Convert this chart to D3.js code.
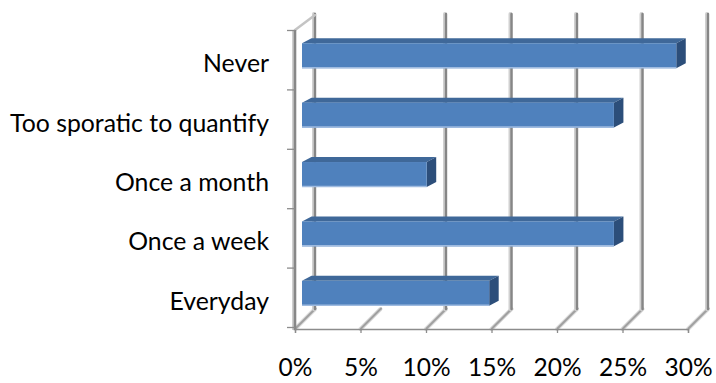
<!DOCTYPE html>
<html>
<head>
<meta charset="utf-8">
<script src="https://cdn.jsdelivr.net/npm/d3@7"></script>
<style>
  html, body { margin: 0; padding: 0; background: #ffffff; }
  svg { display: block; }
  text { font-family: Lato, "Open Sans", sans-serif; fill: #000; }
</style>
</head>
<body>
<svg id="chart" width="716" height="383"></svg>
<script>
// Survey answers (top to bottom) and their shares of respondents
const categories = ["Never", "Too sporatic to quantify", "Once a month", "Once a week", "Everyday"];
const shares = [0.2857, 0.2381, 0.0952, 0.2381, 0.1429];
const tickValues = [0, 0.05, 0.10, 0.15, 0.20, 0.25, 0.30];
const tickLabels = ["0%", "5%", "10%", "15%", "20%", "25%", "30%"];

const data = categories.map((c, i) => ({ category: c, value: shares[i] }));

const svg = d3.select("#chart");

// Front plane of the 3-D box
const plot = { left: 295, right: 688, top: 29, bottom: 326, floor: 329, wallTop: 30 };
// Depth offset of the back wall
const depthX = 20;
const backY = y => y - (15 + 5 * (y - plot.wallTop) / (plot.floor - plot.wallTop));

const x = d3.scaleLinear().domain([0, 0.30]).range([plot.left, plot.right]);
const y = d3.scaleBand().domain(categories).range([plot.top, plot.bottom]);

// Bar solid: offset of the front face into the box and the bar's own depth
const barFront = { dx: 7, dy: -3 };
const barDepth = { dx: 9.5, dy: -5 };
const barHeight = y.bandwidth() * 0.42;

const walls = svg.append("g");

// Floor lines running from each front tick back to the wall
const floorG = walls.append("g");
tickValues.forEach(t => {
  const x0 = x(t), y0 = plot.floor;
  const x1 = x(t) + depthX, y1 = backY(plot.floor);
  floorG.append("line")
    .attr("x1", x0).attr("y1", y0).attr("x2", x1).attr("y2", y1)
    .attr("stroke", "#dadada").attr("stroke-width", 4).attr("stroke-linecap", "round");
  floorG.append("line")
    .attr("x1", x0 + 0.5).attr("y1", y0 - 0.5).attr("x2", x1 + 0.5).attr("y2", y1 - 0.5)
    .attr("stroke", "#a0a0a0").attr("stroke-width", 2).attr("stroke-linecap", "round");
});

// Vertical gridlines on the back wall
const gridG = walls.append("g");
tickValues.forEach((t, i) => {
  if (i === 1) return; // the 5% wall line does not show
  const gx = x(t) + depthX;
  gridG.append("line")
    .attr("x1", gx - 1).attr("x2", gx - 1)
    .attr("y1", backY(plot.wallTop) - 1).attr("y2", backY(plot.floor))
    .attr("stroke", "#d0d0d0").attr("stroke-width", 4)
    .attr("stroke-linecap", "round");
  gridG.append("line")
    .attr("x1", gx).attr("x2", gx)
    .attr("y1", backY(plot.wallTop) - 1).attr("y2", backY(plot.floor))
    .attr("stroke", "#868686").attr("stroke-width", 2.4)
    .attr("stroke-linecap", "round");
});

// Left wall: top edge and front edge (category axis)
walls.append("line")
  .attr("x1", plot.left).attr("y1", plot.wallTop)
  .attr("x2", plot.left + depthX).attr("y2", backY(plot.wallTop))
  .attr("stroke", "#c4c4c4").attr("stroke-width", 2.5).attr("stroke-linecap", "round");
walls.append("line")
  .attr("x1", plot.left - 1).attr("x2", plot.left - 1)
  .attr("y1", plot.wallTop).attr("y2", plot.floor + 1)
  .attr("stroke", "#cfcfcf").attr("stroke-width", 4);
walls.append("line")
  .attr("x1", plot.left).attr("x2", plot.left)
  .attr("y1", plot.wallTop).attr("y2", plot.floor + 1)
  .attr("stroke", "#878787").attr("stroke-width", 2.6);

// Category tick marks on the left edge
const catTicks = categories.map(c => y(c)).concat([plot.bottom]);
walls.selectAll("line.ctick").data(catTicks).join("line")
  .attr("class", "ctick")
  .attr("x1", plot.left - 8).attr("x2", plot.left)
  .attr("y1", d => d + 1.5).attr("y2", d => d + 1.5)
  .attr("stroke", "#8c8c8c").attr("stroke-width", 1.3);

// Value axis along the front of the floor
const xAxis = d3.axisBottom(x).tickValues(tickValues).tickSize(4).tickFormat((d, i) => tickLabels[i]);
const xg = svg.append("g").attr("transform", `translate(0,${plot.floor})`).call(xAxis);
xg.select(".domain").attr("stroke", "#8c8c8c").attr("stroke-width", 1.3);
xg.selectAll(".tick line").attr("stroke", "#8c8c8c").attr("stroke-width", 1.3);
xg.selectAll(".tick text")
  .attr("y", 0).attr("dy", 0)
  .attr("transform", "translate(0,47)")
  .style("font-family", "Lato, 'Open Sans', sans-serif")
  .style("font-size", "24.5px").attr("fill", "#000");

// Category labels
svg.append("g").selectAll("text.cat").data(categories).join("text")
  .attr("class", "cat")
  .attr("x", 269)
  .attr("y", d => y(d) + y.bandwidth() / 2 + 5 + 8.5)
  .attr("text-anchor", "end")
  .style("font-size", "24.8px")
  .text(d => d);

// Bars drawn as three faces: top, right side and front
const bars = svg.append("g").selectAll("g.bar").data(data).join("g").attr("class", "bar");
const fx0 = () => x(0) + barFront.dx;
const fx1 = d => x(d.value) + barFront.dx;
const fy0 = d => y(d.category) + y.bandwidth() / 2 + barFront.dy - barHeight / 2;
const fy1 = d => fy0(d) + barHeight;

bars.append("path")
  .attr("d", d => {
    const a = [fx0(), fy0(d)], b = [fx1(d), fy0(d)];
    return `M${a[0]},${a[1]}L${b[0]},${b[1]}L${b[0] + barDepth.dx},${b[1] + barDepth.dy}L${a[0] + barDepth.dx},${a[1] + barDepth.dy}Z`;
  })
  .attr("fill", "#3f6899");

bars.append("path")
  .attr("d", d => {
    const t = fy0(d), b = fy1(d), r = fx1(d);
    return `M${r},${t}L${r + barDepth.dx},${t + barDepth.dy}L${r + barDepth.dx},${b + barDepth.dy}L${r},${b}Z`;
  })
  .attr("fill", "#2c4e7a");

bars.append("rect")
  .attr("x", fx0())
  .attr("y", d => fy0(d))
  .attr("width", d => fx1(d) - fx0())
  .attr("height", barHeight)
  .attr("fill", "#4f81bd");

// Soft highlight along the lower front edge
bars.append("line")
  .attr("x1", fx0()).attr("x2", d => fx1(d))
  .attr("y1", d => fy1(d) - 0.5).attr("y2", d => fy1(d) - 0.5)
  .attr("stroke", "#9fbbe0").attr("stroke-width", 1.5);
</script>
</body>
</html>
